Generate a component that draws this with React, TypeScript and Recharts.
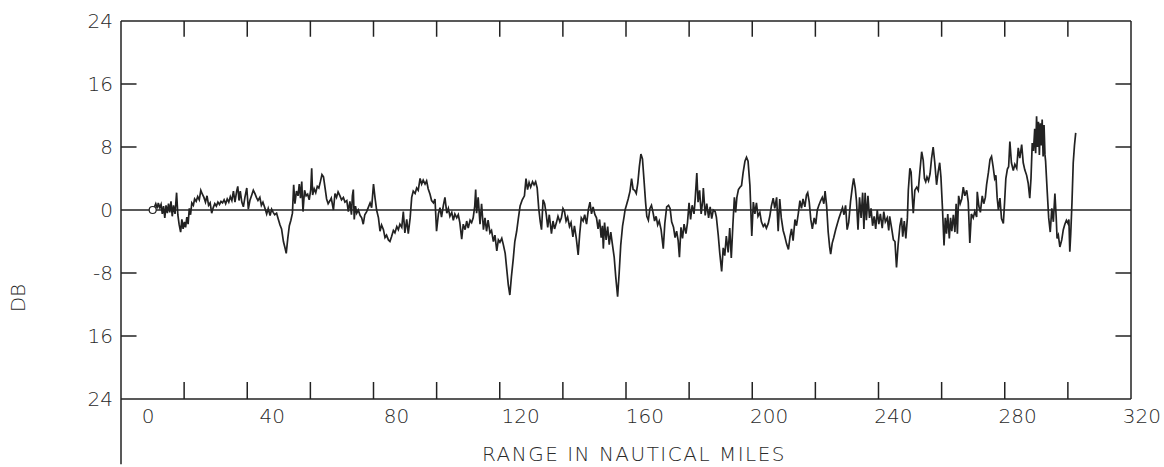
import React from "react";
import { LineChart, Line, XAxis, YAxis, ReferenceLine } from "recharts";

// range (nautical miles) / level (dB) in five stretches
const SEG_A: [number, number][] = [
  [1.5, 0], [2.0, 0.3], [2.5, 0.8], [3.0, 0.2], [3.3, 0.9], [3.8, 0.3], [4.2, 0.7], [4.6, -0.5], [5.0, 0.5],
  [5.4, -1.0], [5.8, 0.6], [6.2, -0.4], [6.6, 0.8], [7.0, -0.3], [7.4, 1.1], [7.8, -0.8], [8.2, 0.6], [8.7, -0.5],
  [9.2, 2.2], [9.6, -0.6], [10.0, -1.8], [10.5, -2.8], [10.9, -1.2], [11.3, -2.4], [11.7, -1.5], [12.1, -2.2],
  [12.5, -0.9], [12.9, -1.8], [13.3, 0.2], [13.7, -0.6], [14.1, 0.9], [14.6, 0.6], [15.0, 1.4], [15.5, 1.1],
  [16.0, 1.7], [16.5, 1.3], [17.0, 2.5], [17.5, 2.0], [18.0, 1.6], [18.5, 1.0], [19.0, 1.8], [19.5, 0.6],
  [20.0, 0.9], [20.5, -0.4], [21.0, 0.3], [21.5, 0.8], [22.0, 0.5], [22.5, 1.0], [23.0, 0.7], [23.5, 1.1],
  [24.0, 0.9], [24.5, 1.3], [25.0, 0.8], [25.5, 1.4], [26.0, 1.0], [26.5, 1.7], [27.0, 1.2], [27.5, 2.4],
  [28.0, 1.0], [28.5, 2.3], [28.9, 3.0], [29.3, 1.2], [29.7, 2.4], [30.2, 1.0], [30.7, 0.4], [31.2, 1.6],
  [31.8, 2.8], [32.3, 0.1], [32.8, 1.2], [33.4, 1.9], [33.9, 2.5], [34.4, 2.1], [34.9, 1.6], [35.4, 1.2],
  [36.0, 1.6], [36.5, 0.6], [37.0, 1.0], [37.6, 0.3], [38.2, -0.5], [38.7, 0.2], [39.3, -0.7], [39.8, 0.1],
  [40.3, -0.3], [40.8, -0.6], [41.4, -0.4], [41.9, -1.1], [42.5, -1.9], [43.0, -2.4], [43.6, -4.0], [44.1, -4.8],
  [44.5, -5.5], [45.0, -3.6], [45.5, -2.0], [46.0, -1.3], [46.5, -0.4], [46.9, 3.2], [47.3, 0.8], [47.8, 2.4],
  [48.3, 1.8], [48.7, 3.3], [49.1, 1.5], [49.5, 3.6], [49.9, -0.2], [50.4, 2.5], [50.9, 1.8], [51.4, 2.0],
  [51.9, 1.3], [52.4, 2.6], [52.7, 5.3], [53.0, 1.9], [53.5, 2.7], [54.0, 2.2], [54.5, 3.0], [55.0, 2.8],
  [55.5, 3.6], [56.0, 4.5], [56.5, 4.2], [57.0, 2.8], [57.5, 1.4], [58.0, 0.8], [58.6, 1.2],
];

const SEG_B: [number, number][] = [
  [59.0, 1.5], [59.7, 0.0], [60.2, 2.1], [60.7, 1.6], [61.2, 2.3], [61.8, 1.8], [62.3, 1.3], [62.9, 1.6],
  [63.4, 1.0], [64.0, 1.2], [64.5, -0.2], [65.0, 1.1], [65.5, -0.6], [65.8, 1.8], [66.1, 2.6], [66.4, -1.2],
  [66.8, 0.5], [67.2, -0.4], [67.7, 0.0], [68.3, -0.7], [68.8, -1.0], [69.3, -1.8], [69.8, -0.6], [70.4, -0.2],
  [70.9, 0.3], [71.5, 0.9], [72.0, 0.3], [72.6, 3.3], [73.1, 1.5], [73.6, 0.0], [74.2, -1.0], [74.7, -2.7],
  [75.2, -1.9], [75.8, -2.5], [76.3, -3.5], [76.8, -3.2], [77.4, -3.8], [77.9, -4.0], [78.4, -3.4], [79.0, -2.6],
  [79.5, -2.9], [80.1, -2.1], [80.6, -2.5], [81.1, -1.8], [81.7, -2.2], [82.2, -0.2], [82.7, -2.9], [83.3, -1.2],
  [83.8, -3.0], [84.4, -1.0], [84.9, 1.6], [85.4, 2.4], [86.0, 2.1], [86.5, 2.8], [87.0, 2.5], [87.6, 4.0],
  [88.1, 3.3], [88.6, 3.8], [89.2, 3.3], [89.7, 3.7], [90.2, 2.7], [90.8, 2.0], [91.3, 1.2], [91.9, 0.9],
  [92.4, 1.4], [92.9, -2.7], [93.5, -0.5], [94.0, 0.3], [94.5, -0.9], [95.1, 0.6], [95.6, 1.6], [96.2, -0.4],
  [96.7, 0.2], [97.2, -0.8], [97.8, -0.3], [98.3, -1.3], [98.8, -0.5], [99.4, -1.0], [99.9, -0.6], [100.4, -1.6],
  [101.0, -3.7], [101.5, -1.8], [102.1, -2.5], [102.6, -1.4], [103.1, -2.3], [103.7, -1.3], [104.2, -1.6],
  [104.7, -1.0], [105.2, 0.5], [105.5, 2.6], [105.8, -0.4], [106.3, 1.6], [106.9, -1.8], [107.4, 0.8],
  [108.0, -2.5], [108.5, -1.0], [109.0, -2.7], [109.5, -1.3], [110.1, -2.9], [110.6, -2.6], [111.2, -4.0],
  [111.7, -3.2], [112.3, -5.2], [112.8, -3.8], [113.3, -4.1], [113.9, -3.6], [114.4, -4.4], [115.0, -5.5],
  [115.5, -7.5], [116.0, -9.5], [116.5, -10.8], [117.0, -8.5], [117.6, -6.2], [118.1, -4.0], [118.7, -2.7],
  [119.2, -1.2], [119.8, 0.5],
];

const SEG_C: [number, number][] = [
  [120.5, 1.3], [121.2, 1.8], [121.7, 4.0], [122.2, 2.6], [122.7, 3.5], [123.2, 2.9], [123.8, 3.6], [124.3, 3.2],
  [124.8, 3.6], [125.3, 2.8], [125.8, 0.2], [126.3, -1.5], [126.7, -2.5], [127.2, 1.3], [127.7, 0.8], [128.2, -0.5],
  [128.7, -2.2], [129.2, -0.6], [129.9, -3.0], [130.4, -1.4], [130.9, -2.4], [131.5, -1.6], [132.0, -0.8],
  [132.6, -1.5], [133.1, -1.0], [133.6, 0.2], [134.1, -0.2], [134.6, -1.4], [135.1, -0.9], [135.7, -2.1],
  [136.2, -1.6], [136.8, -3.4], [137.3, -2.0], [137.9, -3.6], [138.5, -5.7], [139.0, -3.0], [139.5, -1.0],
  [140.1, -1.4], [140.6, -0.6], [141.2, -1.8], [141.8, 0.1], [142.3, 1.0], [142.8, -0.5], [143.3, 0.4],
  [143.9, -0.6], [144.4, -1.0], [144.9, -2.4], [145.4, -1.2], [145.9, -3.5], [146.3, -2.0], [146.6, -4.9],
  [147.0, -1.6], [147.5, -3.8], [148.0, -2.1], [148.5, -4.4], [149.0, -2.8], [149.6, -4.6], [150.1, -6.0],
  [150.6, -8.5], [151.2, -11.0], [151.7, -8.0], [152.2, -4.5], [152.8, -2.0], [153.3, -0.8], [153.6, 0.0],
  [154.1, 0.7], [154.6, 1.4], [155.2, 2.4], [155.7, 4.0], [156.2, 2.6], [156.7, 2.5], [157.2, 2.1], [157.7, 3.4],
  [158.2, 5.5], [158.7, 7.1], [159.2, 6.5], [159.7, 3.8], [160.2, 1.0], [160.6, -0.8], [161.1, -1.3], [161.6, 0.2],
  [162.1, 0.6], [162.6, -0.3], [163.1, -1.4], [163.6, -0.8], [164.1, -1.9], [164.6, -1.4], [165.2, -2.5],
  [165.9, -4.9], [166.4, -1.7], [167.0, 0.4], [167.6, 0.6], [168.1, 0.2], [168.6, -1.5], [169.2, -2.2],
  [169.7, -3.5], [170.2, -2.7], [170.7, -3.9], [171.1, -6.0], [171.6, -2.2], [172.1, -3.6], [172.6, -1.8],
  [173.2, -3.0], [173.7, -1.6], [174.2, 0.9], [174.7, -1.2], [175.2, 0.6], [175.8, -0.5], [176.2, 1.5],
  [176.7, 4.7], [177.1, 1.0], [177.6, 2.5], [178.1, -0.5], [178.6, 1.2], [178.8, 2.8], [179.4, -0.7],
  [179.9, 0.8], [180.5, -1.0], [181.0, 0.4],
];

const SEG_D: [number, number][] = [
  [181.5, -1.1], [182.0, 0.0], [182.6, -0.2], [183.0, -0.9], [183.6, -3.2], [184.1, -5.5], [184.7, -7.8],
  [185.2, -4.8], [185.7, -5.8], [186.2, -3.3], [186.8, -5.4], [187.3, -2.3], [187.8, -6.1], [188.3, -2.0],
  [188.8, 1.6], [189.2, -0.3], [189.6, 1.6], [190.1, 2.6], [190.6, 2.9], [191.1, 3.1], [191.6, 4.7], [192.2, 6.2],
  [192.7, 6.7], [193.2, 6.2], [193.8, 3.1], [194.4, -3.3], [194.9, 1.0], [195.4, -0.5], [195.9, 0.9], [196.4, -0.8],
  [197.0, -0.3], [197.5, -1.5], [198.1, -2.1], [198.6, -1.8], [199.1, -2.3], [199.7, -1.7], [200.2, -0.8],
  [200.7, 0.5], [201.3, 1.5], [201.8, 0.2], [202.4, 1.6], [202.9, -2.7], [203.4, 1.4], [203.9, -1.0], [204.5, -2.6],
  [205.0, -3.3], [205.6, -4.3], [206.2, -5.0], [206.7, -3.4], [207.2, -2.4], [207.7, -3.9], [208.3, -1.2],
  [208.8, -2.0], [209.4, -0.4], [209.9, 1.2], [210.4, 0.2], [210.9, 1.4], [211.5, 0.4], [212.0, 1.9], [212.4, 2.2],
  [212.9, 1.0], [213.4, -1.2], [213.9, -2.4], [214.5, -1.0], [215.0, -1.8], [215.5, 0.0], [216.0, 0.6],
  [216.6, 1.2], [217.1, 1.6], [217.6, 0.8], [218.0, 2.4], [218.5, 0.5], [219.0, -2.8], [219.5, -4.8], [219.8, -5.6],
  [220.3, -4.2], [220.8, -3.5], [221.4, -2.5], [221.9, -1.8], [222.5, -1.0], [223.0, -0.4], [223.6, 0.3],
  [224.1, -0.6], [224.6, 0.6], [225.1, -2.5], [225.6, -1.6], [226.2, 1.1], [226.8, 3.0], [227.2, 4.0], [227.7, 2.8],
  [228.1, 1.2], [228.6, -2.5], [229.1, 1.6], [229.6, -1.0], [230.1, 2.2], [230.5, -2.4], [230.9, 2.2], [231.3, -1.3],
  [231.8, 1.8], [232.3, -1.0], [232.8, 0.2], [233.3, -2.0], [233.8, -0.8], [234.3, -2.4], [234.8, 0.0],
  [235.3, -1.8], [235.8, -0.5], [236.4, -2.3], [236.9, -0.2], [237.4, -1.5], [238.0, -1.0], [238.5, -2.6],
  [238.8, -0.8], [239.5, -2.5], [240.0, -3.8], [240.5, -4.0], [241.0, -7.3], [241.5, -4.5], [242.1, -2.0],
];

const SEG_E: [number, number][] = [
  [242.6, -1.0], [243.0, -3.4], [243.5, -1.4], [244.0, -3.6], [244.5, -1.0], [244.8, 2.5], [245.3, 5.3],
  [245.7, 4.8], [246.1, 1.5], [246.4, -0.4], [246.9, 2.5], [247.5, 2.9], [248.0, 2.5], [248.5, 4.8], [249.1, 7.4],
  [249.6, 6.3], [250.0, 4.0], [250.4, 3.6], [250.8, 4.2], [251.3, 3.7], [251.8, 4.6], [252.3, 6.6], [252.8, 8.0],
  [253.3, 6.1], [253.9, 3.2], [254.4, 4.8], [254.9, 6.0], [255.3, 4.2], [255.8, 0.2], [256.3, -4.5], [256.7, -1.0],
  [257.1, -3.0], [257.5, -0.5], [258.0, -3.6], [258.4, -1.0], [258.8, -2.7], [259.3, -0.6], [259.8, -2.8],
  [260.2, 0.8], [260.6, -3.0], [261.0, 1.8], [261.5, 0.8], [262.0, 1.4], [262.5, 2.9], [263.0, 1.8], [263.6, 2.5],
  [264.1, 1.0], [264.6, -4.2], [265.1, -0.5], [265.7, -1.0], [266.2, -0.2], [266.8, -0.9], [267.0, 2.3],
  [267.5, 0.5], [268.0, -0.3], [268.6, 1.8], [269.1, 0.8], [269.6, 1.6], [270.0, 3.2], [270.6, 4.8], [271.1, 6.4],
  [271.6, 6.8], [272.1, 5.5], [272.6, 4.0], [273.0, 4.4], [273.4, 1.6], [273.8, 0.0], [274.3, 1.5], [274.8, -1.1],
  [275.4, -1.7], [275.8, 1.0], [276.2, 4.0], [276.7, 5.2], [277.1, 5.5], [277.5, 8.7], [278.0, 6.0], [278.6, 5.0],
  [279.1, 5.8], [279.7, 5.3], [280.2, 7.9], [280.7, 6.6], [281.3, 8.3], [281.8, 6.0], [282.3, 5.1], [282.9, 4.4],
  [283.4, 3.4], [283.9, 1.5], [284.3, 4.0], [284.7, 8.5], [285.1, 7.5], [285.5, 10.3], [285.8, 7.2], [286.1, 11.9],
  [286.4, 8.0], [286.7, 11.2], [287.0, 7.0], [287.3, 11.0], [287.6, 8.2], [287.9, 11.5], [288.2, 6.8],
  [288.5, 10.8], [288.8, 7.0], [289.0, 6.2], [289.5, 2.5], [290.0, -1.0], [290.5, -2.8], [291.0, 0.2],
  [291.5, -1.5], [292.0, 2.1], [292.4, -0.8], [292.7, -3.6], [293.1, -3.2], [293.6, -4.7], [294.2, -3.8],
  [294.7, -2.5], [295.2, -1.8], [295.7, -1.3], [296.2, -1.7], [296.5, -1.2], [296.8, -5.3], [297.1, -3.0],
  [297.5, 1.0], [297.9, 6.0], [298.3, 8.2], [298.7, 9.8],
];

const X_LABEL_TICKS = [0, 40, 80, 120, 160, 200, 240, 280, 320];
const X_DOMAIN = [-8.7, 316.5];
// the plotter's frame is cut into 16 equal steps, independent of the labels
const FRAME_STEPS = 16;
const FRAME_TICKS = Array.from({ length: FRAME_STEPS - 1 }, (_, i) =>
  X_DOMAIN[0] + ((i + 1) * (X_DOMAIN[1] - X_DOMAIN[0])) / FRAME_STEPS
);
const Y_DOMAIN = [-24, 24];
const Y_TICKS = [-24, -16, -8, 0, 8, 16, 24];
const Y_TICK_TEXT = ["24", "16", "-8", "0", "8", "16", "24"];
const Y_INNER_TICKS = [-16, -8, 8, 16];
// tick mark lengths, in axis units (about 16px each way)
const TICK_DB = 2.0;
const TICK_NM = 5.0;

const data = [...SEG_A, ...SEG_B, ...SEG_C, ...SEG_D, ...SEG_E].map(([nm, db]) => ({ nm, db }));

const INK = "#222";
const TEXT = "#2a2a2a";
const FONT = "'DejaVu Sans', sans-serif";
const tickFont = { fontFamily: FONT, fontSize: 20, fill: TEXT, fontWeight: 300 };
const frameLine = { stroke: INK, strokeWidth: 1.5 };

const NoLabel = () => <g />;

const StartDot = (props: any) => {
  const { cx, cy, index } = props;
  if (index !== 0) return <g key={"d" + index} />;
  return <circle key="start" cx={cx} cy={cy} r={3.5} fill="#fff" stroke={INK} strokeWidth={1.2} />;
};

const topSeg = (i: number) => [
  { x: FRAME_TICKS[i], y: Y_DOMAIN[1] + 0.01 },
  { x: FRAME_TICKS[i], y: Y_DOMAIN[1] - TICK_DB },
];
const leftSeg = (i: number) => [
  { x: X_DOMAIN[0] - 0.01, y: Y_INNER_TICKS[i] },
  { x: X_DOMAIN[0] + TICK_NM, y: Y_INNER_TICKS[i] },
];
const rightSeg = (i: number) => [
  { x: X_DOMAIN[1] + 0.01, y: Y_INNER_TICKS[i] },
  { x: X_DOMAIN[1] - TICK_NM, y: Y_INNER_TICKS[i] },
];

export default function App() {
  return (
    <div style={{ position: "absolute", left: 0, top: 0, background: "#fff" }}>
      <LineChart width={1164} height={467} data={data} margin={{ top: 0, right: 0, bottom: 0, left: 0 }}>
        <XAxis
          xAxisId="data"
          dataKey="nm"
          type="number"
          domain={X_DOMAIN}
          allowDataOverflow
          ticks={X_LABEL_TICKS}
          interval={0}
          tickLine={false}
          tickMargin={4}
          height={68}
          axisLine={frameLine}
          tick={tickFont}
          label={{
            content: ({ viewBox }: any) => (
              <text
                x={viewBox.x + viewBox.width / 2 + 8}
                y={viewBox.y + 62}
                textAnchor="middle"
                fontFamily={FONT}
                fontSize={20}
                fontWeight={300}
                letterSpacing={1.5}
                fill={TEXT}
              >
                RANGE IN NAUTICAL MILES
              </text>
            ),
          }}
        />
        <XAxis
          xAxisId="frameB"
          dataKey="nm"
          type="number"
          domain={X_DOMAIN}
          allowDataOverflow
          ticks={FRAME_TICKS}
          interval={0}
          orientation="bottom"
          mirror
          tickSize={17}
          axisLine={false}
          tickLine={frameLine}
          tick={NoLabel}
        />
        <XAxis
          xAxisId="frameT"
          dataKey="nm"
          type="number"
          domain={X_DOMAIN}
          allowDataOverflow
          orientation="top"
          height={21}
          ticks={[]}
          tickLine={false}
          axisLine={frameLine}
          tick={false}
        />
        <YAxis
          yAxisId="yl"
          dataKey="db"
          type="number"
          domain={Y_DOMAIN}
          allowDataOverflow
          ticks={Y_TICKS}
          interval={0}
          width={121}
          tickLine={false}
          axisLine={frameLine}
          tick={tickFont}
          tickFormatter={(v: number) => Y_TICK_TEXT[Y_TICKS.indexOf(v)]}
          label={{
            content: ({ viewBox }: any) => {
              const x = viewBox.x + 18;
              const y = viewBox.y + viewBox.height * 0.733;
              return (
                <text
                  x={x}
                  y={y}
                  transform={`rotate(-90, ${x}, ${y})`}
                  textAnchor="middle"
                  dominantBaseline="central"
                  fontFamily={FONT}
                  fontSize={20}
                  fontWeight={300}
                  fill={TEXT}
                >
                  DB
                </text>
              );
            },
          }}
        />
        <YAxis
          yAxisId="yr"
          dataKey="db"
          orientation="right"
          type="number"
          domain={Y_DOMAIN}
          allowDataOverflow
          width={33}
          ticks={[]}
          tickLine={false}
          axisLine={frameLine}
          tick={false}
        />
        <ReferenceLine xAxisId="data" yAxisId="yl" segment={topSeg(0)} ifOverflow="visible" stroke={INK} strokeWidth={1.5} />
        <ReferenceLine xAxisId="data" yAxisId="yl" segment={topSeg(1)} ifOverflow="visible" stroke={INK} strokeWidth={1.5} />
        <ReferenceLine xAxisId="data" yAxisId="yl" segment={topSeg(2)} ifOverflow="visible" stroke={INK} strokeWidth={1.5} />
        <ReferenceLine xAxisId="data" yAxisId="yl" segment={topSeg(3)} ifOverflow="visible" stroke={INK} strokeWidth={1.5} />
        <ReferenceLine xAxisId="data" yAxisId="yl" segment={topSeg(4)} ifOverflow="visible" stroke={INK} strokeWidth={1.5} />
        <ReferenceLine xAxisId="data" yAxisId="yl" segment={topSeg(5)} ifOverflow="visible" stroke={INK} strokeWidth={1.5} />
        <ReferenceLine xAxisId="data" yAxisId="yl" segment={topSeg(6)} ifOverflow="visible" stroke={INK} strokeWidth={1.5} />
        <ReferenceLine xAxisId="data" yAxisId="yl" segment={topSeg(7)} ifOverflow="visible" stroke={INK} strokeWidth={1.5} />
        <ReferenceLine xAxisId="data" yAxisId="yl" segment={topSeg(8)} ifOverflow="visible" stroke={INK} strokeWidth={1.5} />
        <ReferenceLine xAxisId="data" yAxisId="yl" segment={topSeg(9)} ifOverflow="visible" stroke={INK} strokeWidth={1.5} />
        <ReferenceLine xAxisId="data" yAxisId="yl" segment={topSeg(10)} ifOverflow="visible" stroke={INK} strokeWidth={1.5} />
        <ReferenceLine xAxisId="data" yAxisId="yl" segment={topSeg(11)} ifOverflow="visible" stroke={INK} strokeWidth={1.5} />
        <ReferenceLine xAxisId="data" yAxisId="yl" segment={topSeg(12)} ifOverflow="visible" stroke={INK} strokeWidth={1.5} />
        <ReferenceLine xAxisId="data" yAxisId="yl" segment={topSeg(13)} ifOverflow="visible" stroke={INK} strokeWidth={1.5} />
        <ReferenceLine xAxisId="data" yAxisId="yl" segment={topSeg(14)} ifOverflow="visible" stroke={INK} strokeWidth={1.5} />
        <ReferenceLine xAxisId="data" yAxisId="yl" segment={leftSeg(0)} ifOverflow="visible" stroke={INK} strokeWidth={1.5} />
        <ReferenceLine xAxisId="data" yAxisId="yl" segment={leftSeg(1)} ifOverflow="visible" stroke={INK} strokeWidth={1.5} />
        <ReferenceLine xAxisId="data" yAxisId="yl" segment={leftSeg(2)} ifOverflow="visible" stroke={INK} strokeWidth={1.5} />
        <ReferenceLine xAxisId="data" yAxisId="yl" segment={leftSeg(3)} ifOverflow="visible" stroke={INK} strokeWidth={1.5} />
        <ReferenceLine xAxisId="data" yAxisId="yl" segment={rightSeg(0)} ifOverflow="visible" stroke={INK} strokeWidth={1.5} />
        <ReferenceLine xAxisId="data" yAxisId="yl" segment={rightSeg(1)} ifOverflow="visible" stroke={INK} strokeWidth={1.5} />
        <ReferenceLine xAxisId="data" yAxisId="yl" segment={rightSeg(2)} ifOverflow="visible" stroke={INK} strokeWidth={1.5} />
        <ReferenceLine xAxisId="data" yAxisId="yl" segment={rightSeg(3)} ifOverflow="visible" stroke={INK} strokeWidth={1.5} />
        <ReferenceLine xAxisId="data" yAxisId="yl" y={0} stroke={INK} strokeWidth={1.5} />
        <ReferenceLine
          xAxisId="data"
          yAxisId="yl"
          segment={[{ x: X_DOMAIN[0], y: Y_DOMAIN[0] }, { x: X_DOMAIN[0], y: -32.3 }]}
          ifOverflow="visible"
          stroke={INK}
          strokeWidth={1.5}
        />
        <Line
          xAxisId="data"
          yAxisId="yl"
          dataKey="db"
          type="linear"
          stroke={INK}
          strokeWidth={1.7}
          dot={StartDot}
          activeDot={false}
          isAnimationActive={false}
        />
      </LineChart>
    </div>
  );
}
